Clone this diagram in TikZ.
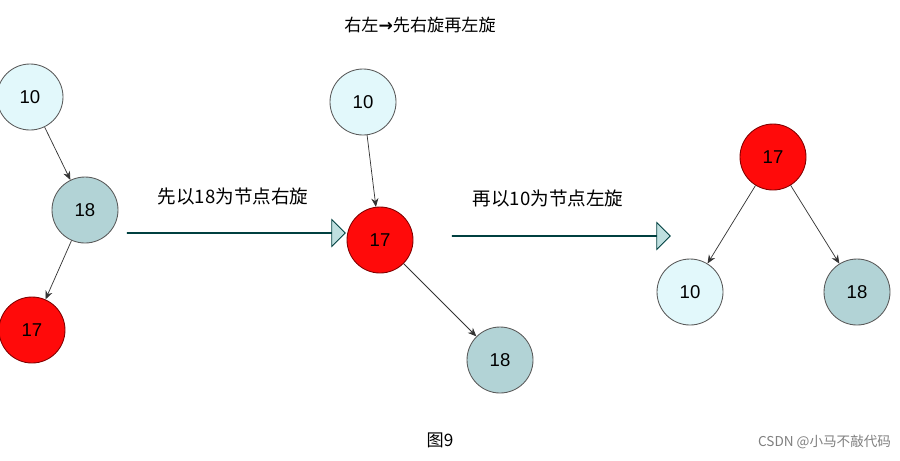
\documentclass[tikz,border=0pt]{standalone}
\usepackage{fontspec}
\setmainfont{Liberation Sans}
\newfontfamily\cjk{Noto Sans CJK SC}
\newfontfamily\djvfont{DejaVu Sans}
\usetikzlibrary{arrows.meta,shapes.arrows}
\definecolor{lc}{HTML}{E2F8FB}
\definecolor{tc}{HTML}{B2D3D6}
\definecolor{rc}{HTML}{FF0A0A}
\definecolor{ac}{HTML}{BFE0E0}
\tikzset{
 nd/.style={circle,minimum size=66pt*0.7,inner sep=0pt,draw=gray!70!black,line width=0.6pt,font=\fontsize{13}{13}\selectfont},
 lt/.style={nd,fill=lc},
 tl/.style={nd,fill=tc},
 rd/.style={nd,fill=rc,draw=red!50!black},
 ed/.style={-{Stealth[length=6pt,width=5pt]},line width=0.5pt,black!80},
 blk/.style={single arrow,draw=teal!50!black,fill=ac,line width=0.6pt,minimum height=218pt*0.7,minimum width=24pt*0.7,single arrow head extend=13pt*0.7,inner sep=0pt,single arrow tip angle=90},
 lab/.style={font=\cjk\fontsize{13}{13}\selectfont}
}
\begin{document}
\begin{tikzpicture}[x=0.7pt,y=-0.7pt]
\useasboundingbox[fill=white] (0,0) rectangle (900,460);
\node[lt] (a1) at (30,97) {10};
\node[tl] (a2) at (85,210) {18};
\node[rd] (a3) at (32,330) {17};
\draw[ed] (a1) -- (a2);
\draw[ed] (a2) -- (a3);
\node[lt] (b1) at (363,102) {10};
\node[blk] (ar1) at (236,233) {};
\node[blk] (ar2) at (561,236) {};
\node[rd] (b2) at (380,240) {17};
\node[tl] (b3) at (500,360) {18};
\draw[ed] (b1) -- (b2);
\draw[ed] (b2) -- (b3);
\node[rd] (c1) at (773,157) {17};
\node[lt] (c2) at (690,292) {10};
\node[tl] (c3) at (857,292) {18};
\draw[ed] (c1) -- (c2);
\draw[ed] (c1) -- (c3);
\node[lab] (l1) at (233,196) {先以18为节点右旋};
\node[lab] (l2) at (548,198) {再以10为节点左旋};
\node[font=\cjk\fontsize{12}{12}\selectfont] (t) at (420,25) {右左{\djvfont\bfseries →}先右旋再左旋};
\node[font=\cjk\fontsize{12}{12}\selectfont] (f) at (440,440) {图9};
\node[font=\cjk\fontsize{9.5}{10}\selectfont,text=gray,anchor=east] (w) at (896,442) {CSDN @小马不敲代码};
\end{tikzpicture}
\end{document}
